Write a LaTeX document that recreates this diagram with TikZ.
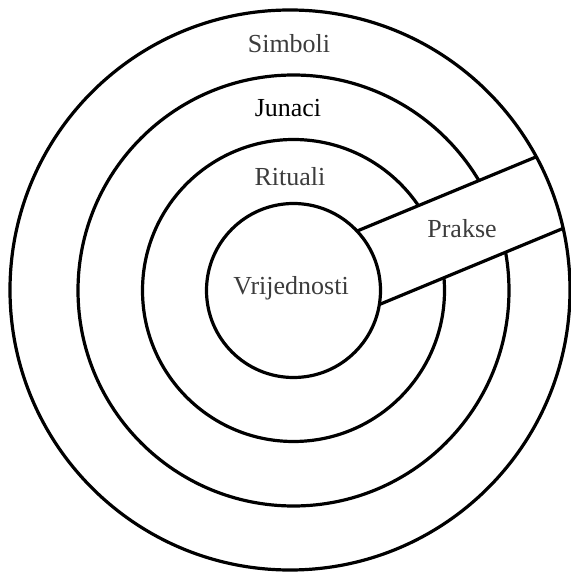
\documentclass[tikz,border=0pt]{standalone}
\usepackage{fontspec}
\setmainfont{Liberation Serif}
\definecolor{labelgray}{HTML}{3C3C3C}
\begin{document}
\begin{tikzpicture}[x=1pt, y=1pt, line width=3.2pt,
  ring/.style={draw=black},
  lbl/.style={font=\fontsize{26}{30}\selectfont, text=labelgray, inner sep=1pt},
  lblblack/.style={lbl, text=black}]
  \useasboundingbox (0,0) rectangle (571,582);
  \coordinate (c) at (293.5,291.5);
  \coordinate (o) at (290,292);
  % middle rings, cut by the band later
  \draw[ring] (c) circle (215.5);
  \draw[ring] (c) circle (151);
  % the band between inner and outer ring
  \begin{scope}[even odd rule]
    \clip (o) circle (280) (c) circle (87);
    \begin{scope}[shift={(c)}, rotate=22.5]
      \filldraw[fill=white, draw=black] (0,-45.8) rectangle (320,30.6);
    \end{scope}
  \end{scope}
  \draw[ring] (c) circle (87);
  \draw[ring] (o) circle (280);
  \node[lbl] (simboli) at (289,538) {Simboli};
  \node[lblblack] (junaci) at (288,474) {Junaci};
  \node[lbl] (rituali) at (290,405) {Rituali};
  \node[lbl] (vrijednosti) at (291,294) {Vrijednosti};
  \node[lbl] (prakse) at (462,353) {Prakse};
\end{tikzpicture}
\end{document}
